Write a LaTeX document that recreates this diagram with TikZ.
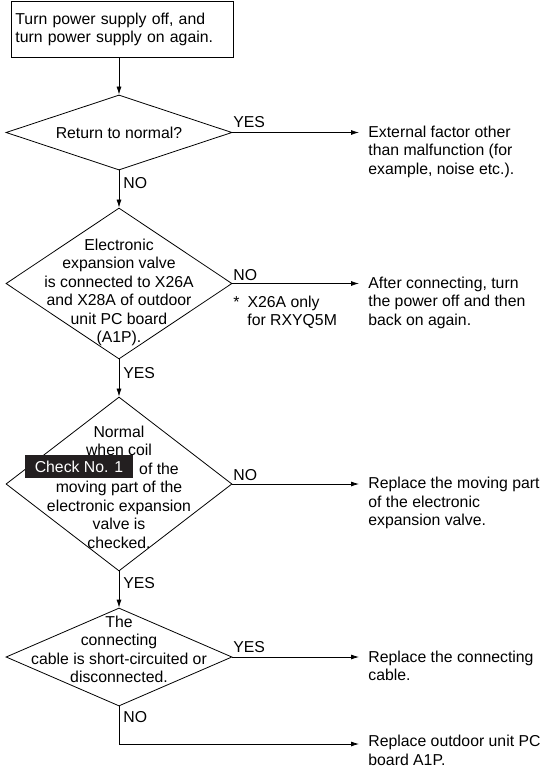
\documentclass[tikz,border=0pt]{standalone}
\usepackage{fontspec}
\setmainfont{Liberation Sans}
\usetikzlibrary{arrows.meta, shapes.geometric, positioning}
\definecolor{tagdark}{HTML}{231F20}

\begin{document}
\begin{tikzpicture}[
    x=1pt, y=-1pt,
    line width=0.8pt,
    every node/.style={
            font=\fontsize{15.8}{18.5}\selectfont,
            inner sep=0pt
        },
    arrow/.style={-{Latex[length=8pt, width=5pt]}},
    decision/.style={diamond, draw, minimum width=226pt},
    action_block/.style={
            rectangle,
            draw,
            align=left,
            text width=214pt,
            inner xsep=4pt,
            inner ysep=11.5pt
        },
    inner_text/.style={align=center, anchor=north},
    result_text/.style={align=left, anchor=north west},
    answer/.style={anchor=base west},
    check_tag/.style={fill=tagdark, text=white, minimum width=108pt, minimum height=23pt},
    ]

    \useasboundingbox (0,0) rectangle (542,770);

    % --- Start ---
    \node[action_block, anchor=north west] (power_reset) at (11,1) {Turn power supply off, and\\turn power supply on again.};

    % --- Decisions ---
    \node[decision, minimum height=75pt] (normal_check) at (119,132.5) {};
    \node[inner_text] (normal_text) at (119,126.5) {Return to normal?};

    \node[decision, minimum height=151pt] (valve_check) at (119,283.5) {};
    \node[inner_text] (valve_text) at (119,238.5) {Electronic\\expansion valve\\is connected to X26A\\and X28A of outdoor\\unit PC board\\(A1P).};

    \node[decision, minimum height=174pt] (coil_check) at (119,484) {};
    \node[inner_text] (coil_text) at (119,425.5) {Normal\\when coil\\\hspace*{80pt}of the\\moving part of the\\electronic expansion\\valve is\\checked.};
    \node[check_tag] (check_one) at (79,466.5) {Check No. 1};

    \node[decision, minimum height=98pt] (cable_check) at (119,657) {};
    \node[inner_text] (cable_text) at (119,615.5) {The\\connecting\\cable is short-circuited or\\disconnected.};

    % --- Results ---
    \node[result_text] (external_text) at (368,125.5) {External factor other\\than malfunction (for\\example, noise etc.).};
    \node[result_text] (reconnect_text) at (368,276.5) {After connecting, turn\\the power off and then\\back on again.};
    \node[result_text] (valve_text_r) at (368,477) {Replace the moving part\\of the electronic\\expansion valve.};
    \node[result_text] (cable_text_r) at (368,650.5) {Replace the connecting\\cable.};
    \node[result_text] (board_text) at (368,735) {Replace outdoor unit PC\\board A1P.};

    % --- Answers ---
    \node[answer] (normal_yes) at (233,128) {YES};
    \node[answer] (normal_no) at (123,188) {NO};
    \node[answer] (valve_no) at (233,280) {NO};
    \node[result_text] (valve_note) at (233,295.5) {*\hspace{8pt}X26A only\\\hspace*{14pt}for RXYQ5M};
    \node[answer] (valve_yes) at (123,378) {YES};
    \node[answer] (coil_no) at (233,480) {NO};
    \node[answer] (coil_yes) at (123,588) {YES};
    \node[answer] (cable_yes) at (233,652) {YES};
    \node[answer] (cable_no) at (123,722) {NO};

    % --- Arrows ---
    \draw[arrow] (power_reset.south -| normal_check) -- (normal_check.north);
    \draw[arrow] (normal_check) -- (valve_check);
    \draw[arrow] (valve_check) -- (coil_check);
    \draw[arrow] (coil_check) -- (cable_check);

    \draw[arrow, shorten >=9pt] (normal_check.east) -- (normal_check.east -| external_text.west);
    \draw[arrow, shorten >=9pt] (valve_check.east) -- (valve_check.east -| reconnect_text.west);
    \draw[arrow, shorten >=9pt] (coil_check.east) -- (coil_check.east -| valve_text_r.west);
    \draw[arrow, shorten >=9pt] (cable_check.east) -- (cable_check.east -| cable_text_r.west);

    \coordinate (board_turn) at (119,744);
    \draw[arrow, shorten >=9pt] (cable_check.south) -- (board_turn) -- (board_turn -| board_text.west);

\end{tikzpicture}
\end{document}
